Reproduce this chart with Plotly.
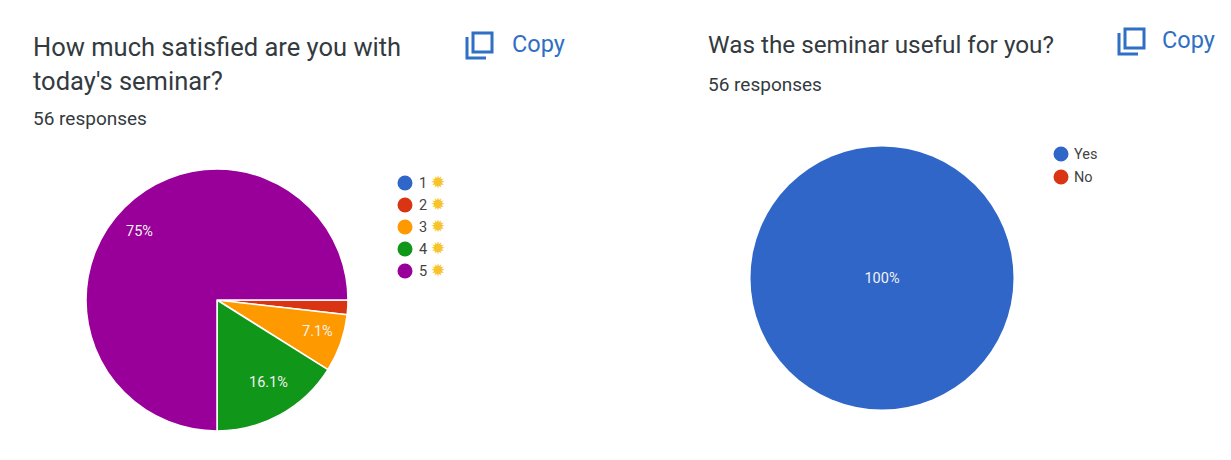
import plotly.graph_objects as go

W, H = 1231, 460
PAGE_MARGIN = 8
FIG_W, FIG_H = W - 2 * PAGE_MARGIN, H - 2 * PAGE_MARGIN

# ---- data ----
q1_title = ["How much satisfied are you with", "today's seminar?"]
q1_responses = "56 responses"
q1_labels = ["1", "2", "3", "4", "5"]
q1_counts = [0, 1, 4, 9, 42]
q1_shown = ["", "", "7.1%", "16.1%", "75%"]

q2_title = ["Was the seminar useful for you?"]
q2_responses = "56 responses"
q2_labels = ["Yes", "No"]
q2_counts = [56, 0]
q2_shown = ["100%", ""]

copy_label = "Copy"
star = "✹"

# ---- style ----
COLORS = ["#2f66c8", "#d93512", "#ff9900", "#109618", "#990099"]
Q2_COLORS = COLORS[:2]
INK = "#333a40"
BLUE = "#2f6fc4"
FONT = "Roboto, Arial, sans-serif"
Q1_LABEL_POS = {2: (317, 331), 3: (268, 382), 4: (139, 232)}


def px(x):
    return (x - PAGE_MARGIN) / FIG_W


def py(y):
    return 1 - (y - PAGE_MARGIN) / FIG_H


def pie_domain(cx, cy, r):
    return dict(x=[px(cx - r), px(cx + r)], y=[py(cy + r), py(cy - r)])


fig = go.Figure()

fig.add_trace(go.Pie(
    labels=q1_labels, values=q1_counts,
    textinfo="none",
    marker=dict(colors=COLORS, line=dict(color="white", width=1.5)),
    sort=False, direction="clockwise", rotation=90, showlegend=False,
    domain=pie_domain(217, 300, 131),
))
fig.add_trace(go.Pie(
    labels=q2_labels, values=q2_counts, text=q2_shown,
    textinfo="text", textposition="inside", insidetextorientation="horizontal",
    textfont=dict(family=FONT, size=14.5, color="#f2f2f2"),
    marker=dict(colors=Q2_COLORS, line=dict(width=0)),
    sort=False, direction="clockwise", rotation=0, showlegend=False,
    domain=pie_domain(882, 278, 131.5),
))

annotations = []
shapes = []


def text(x, y, s, size, color=INK, anchor="left"):
    annotations.append(dict(
        x=px(x), y=py(y), xref="paper", yref="paper", text=s, showarrow=False,
        xanchor=anchor, yanchor="middle", align="left",
        font=dict(family=FONT, size=size, color=color),
        xshift=-2 if anchor == "left" else 0,
    ))


def dot(x, y, r, color):
    shapes.append(dict(type="circle", xref="paper", yref="paper",
                       x0=px(x - r), x1=px(x + r), y0=py(y + r), y1=py(y - r),
                       fillcolor=color, line=dict(width=0)))


def copy_button(x, y, label_x):
    line = dict(color=BLUE, width=3)
    shapes.append(dict(type="rect", xref="paper", yref="paper",
                       x0=px(x + 6), x1=px(x + 25), y0=py(y + 19), y1=py(y),
                       line=line))
    shapes.append(dict(type="path", xref="paper", yref="paper",
                       path=f"M {px(x)} {py(y + 4)} L {px(x)} {py(y + 25)} L {px(x + 19)} {py(y + 25)}",
                       line=line))
    text(label_x, y + 11, copy_label, 23.5, BLUE)


text(33, 47, q1_title[0], 25.5)
text(33, 81, q1_title[1], 25.5)
text(33, 118, q1_responses, 19)
copy_button(467, 33, 512)

text(708, 44, q2_title[0], 24.3)
text(708, 84, q2_responses, 19)
copy_button(1119, 29, 1162)

for i, (lab, col) in enumerate(zip(q1_labels, COLORS)):
    y = 183 + i * 22
    dot(405, y, 7.5, col)
    text(419, y - 1, f'{lab} <span style="color:#f7c52b;font-size:17px">{star}</span>', 14.5, "#444")

for i, (lab, col) in enumerate(zip(q2_labels, Q2_COLORS)):
    y = 154 + i * 23
    dot(1061, y, 7.5, col)
    text(1074, y, lab, 14.5, "#444")

for i, (xp, yp) in Q1_LABEL_POS.items():
    text(xp, yp, q1_shown[i], 14.5, "#f2f2f2", anchor="center")

fig.update_layout(
    width=FIG_W, height=FIG_H,
    margin=dict(l=0, r=0, t=0, b=0),
    paper_bgcolor="white",
    annotations=annotations, shapes=shapes,
)

fig.write_html("out.html", config=dict(displayModeBar=False))
